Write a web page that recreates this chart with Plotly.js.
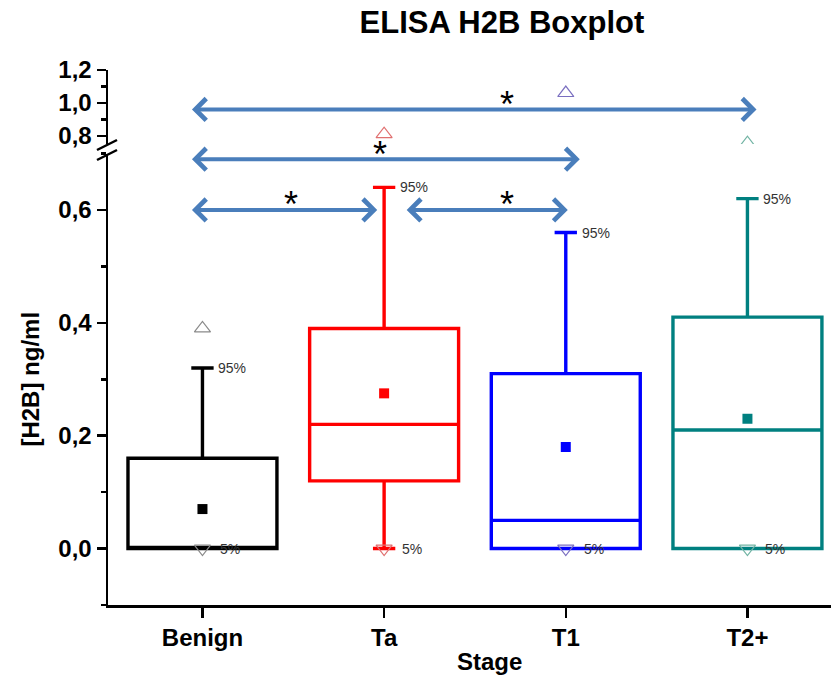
<!DOCTYPE html>
<html>
<head>
<meta charset="utf-8">
<script src="https://cdn.plot.ly/plotly-3.0.1.min.js"></script>
<style>html,body{margin:0;padding:0;background:#fff;}#chart{width:831px;height:681px;}</style>
</head>
<body>
<div id="chart"></div>
<script>
// ---- data ----
const categories = ['Benign', 'Ta', 'T1', 'T2+'];
const q1Values     = [0.00, 0.12, 0.00, 0.00];
const medianValues = [0.00, 0.22, 0.05, 0.21];
const q3Values     = [0.16, 0.39, 0.31, 0.41];
const p5Values     = [0.00, 0.00, 0.00, 0.00];
const p95Values    = [0.32, 0.64, 0.56, 0.62];
const meanValues   = [0.07, 0.275, 0.18, 0.23];
const maxValues    = [0.39, 0.81, 1.06, 0.755];
const minValues    = [0.00, 0.00, 0.00, 0.00];
const tadash       = [0.00];            // small dash marker beside Ta minimum
// significance comparisons: [left end, right end, level, star position]
const comparisons = [
  [-0.066, 0.962, 0.60, 0.49],
  [1.116, 2.011, 0.60, 1.676],
  [-0.066, 2.077, 0.69, 0.978],
  [-0.066, 3.05, 0.96, 1.676]
];

// ---- styling ----
const colors = ['#000000', '#ff0000', '#0000ff', '#008080'];
const lightColors = ['#8a8a8a', '#e07070', '#7a6fc0', '#72b4a4'];
const FONT = 'Liberation Sans, Arial, sans-serif';
const LOWER_MAX = 0.7;     // break point of the axis

const traces = [];
categories.forEach((c, i) => {
  traces.push({
    type: 'box', x: [c], q1: [q1Values[i]], median: [medianValues[i]], q3: [q3Values[i]],
    lowerfence: [p5Values[i]], upperfence: [p95Values[i]],
    width: 0.82, whiskerwidth: 0.15, boxpoints: false,
    line: {color: colors[i], width: 3.4}, fillcolor: 'rgba(0,0,0,0)',
    xaxis: 'x', yaxis: 'y', hoverinfo: 'skip', showlegend: false
  });
});
// means
traces.push({
  type: 'scatter', mode: 'markers', x: categories, y: meanValues, xaxis: 'x', yaxis: 'y',
  marker: {symbol: 'square', size: 10, color: colors}, showlegend: false, hoverinfo: 'skip'
});
// minima
traces.push({
  type: 'scatter', mode: 'markers', x: categories, y: minValues, xaxis: 'x', yaxis: 'y',
  marker: {symbol: 'triangle-down-open', size: 14, color: lightColors, line: {width: 1.2}},
  showlegend: false, hoverinfo: 'skip'
});
// Ta small dash
traces.push({
  type: 'scatter', mode: 'markers', x: [0.885], y: tadash, xaxis: 'x', yaxis: 'y',
  marker: {symbol: 'line-ew-open', size: 7, color: lightColors[1], line: {width: 1.4, color: lightColors[1]}},
  showlegend: false, hoverinfo: 'skip'
});
// maxima (split between the two axis segments)
const loX = [], loY = [], loC = [], hiX = [], hiY = [], hiC = [];
maxValues.forEach((v, i) => {
  if (v <= LOWER_MAX) { loX.push(categories[i]); loY.push(v); loC.push(lightColors[i]); }
  else { hiX.push(categories[i]); hiY.push(v); hiC.push(lightColors[i]); }
});
traces.push({
  type: 'scatter', mode: 'markers', x: loX, y: loY, xaxis: 'x', yaxis: 'y',
  marker: {symbol: 'triangle-up-open', size: 14, color: loC, line: {width: 1.2}},
  showlegend: false, hoverinfo: 'skip'
});
traces.push({
  type: 'scatter', mode: 'markers', x: hiX, y: hiY, xaxis: 'x', yaxis: 'y2',
  marker: {symbol: 'triangle-up-open', size: 14, color: hiC, line: {width: 1.2}},
  showlegend: false, hoverinfo: 'skip'
});

// annotations
const annotations = [];
categories.forEach((c, i) => {
  annotations.push({x: i, y: p95Values[i], xref: 'x', yref: 'y', text: '95%', showarrow: false,
    xanchor: 'left', yanchor: 'middle', xshift: 14, font: {family: FONT, size: 14, color: '#333'}});
  annotations.push({x: i, y: p5Values[i], xref: 'x', yref: 'y', text: '5%', showarrow: false,
    xanchor: 'left', yanchor: 'middle', xshift: 16, font: {family: FONT, size: 14, color: '#333'}});
});
comparisons.forEach(cmp => {
  const yr = cmp[2] > LOWER_MAX ? 'y2' : 'y';
  annotations.push({x: cmp[1], y: cmp[2], ax: cmp[0], ay: cmp[2], xref: 'x', yref: yr,
    axref: 'x', ayref: yr, text: '', showarrow: true, arrowside: 'end+start',
    arrowhead: 4, startarrowhead: 4, arrowsize: 1.05, startarrowsize: 1.05, arrowwidth: 4,
    arrowcolor: '#4a7ebb', standoff: 0, startstandoff: 0});
  annotations.push({x: cmp[3], y: cmp[2], xref: 'x', yref: yr, text: '*', showarrow: false,
    xanchor: 'center', yanchor: 'middle', yshift: 5, font: {family: FONT, size: 36, color: '#000'}});
});
annotations.push({x: 0.527, y: -0.1065, xref: 'paper', yref: 'paper', text: 'Stage', showarrow: false,
  xanchor: 'center', yanchor: 'middle', font: {family: FONT, size: 24, weight: 'bold', color: '#000'}});

// axis break marks (paper coords)
const L = 108, R = 831, T = 70, B = 605;
const px = v => (v - L) / (R - L), py = v => (B - v) / (B - T);
const shapes = [
  {type: 'line', xref: 'paper', yref: 'paper', x0: px(97), y0: py(150), x1: px(117), y1: py(140), line: {color: '#000', width: 2.5}},
  {type: 'line', xref: 'paper', yref: 'paper', x0: px(97), y0: py(160), x1: px(117), y1: py(150), line: {color: '#000', width: 2.5}}
];

const tickFont = {family: FONT, size: 24, weight: 'bold', color: '#000'};
const layout = {
  width: 831, height: 681,
  margin: {l: L, r: 0, t: T, b: 681 - B, pad: 0},
  paper_bgcolor: '#fff', plot_bgcolor: '#fff',
  separators: ',.',
  showlegend: false,
  title: {text: 'ELISA H2B Boxplot', xref: 'container', yref: 'container', x: 0.604, y: 0.968,
    xanchor: 'center', yanchor: 'middle', font: {family: FONT, size: 31, weight: 'bold', color: '#000'}},
  xaxis: {type: 'category', range: [-0.52, 3.46], showline: true, linewidth: 2.5, linecolor: '#000',
    ticks: 'outside', ticklen: 10, tickwidth: 2.5, tickcolor: '#000', tickfont: {family: FONT, size: 24, weight: 'bold', color: '#000'},
    showgrid: false, zeroline: false, anchor: 'y', fixedrange: true},
  yaxis: {domain: [0, py(153.5)], range: [-0.1, LOWER_MAX], dtick: 0.2, tick0: 0, tickformat: '.1f',
    showline: true, linewidth: 2.5, linecolor: '#000', ticks: 'outside', ticklen: 9, tickwidth: 2.5, tickcolor: '#000',
    minor: {dtick: 0.1, ticks: 'outside', ticklen: 5, tickwidth: 2.5, tickcolor: '#000'},
    tickfont: tickFont, showgrid: false, zeroline: false, anchor: 'x',
    title: {text: '[H2B] ng/ml', standoff: 12, font: {family: FONT, size: 24, weight: 'bold', color: '#000'}}},
  yaxis2: {domain: [py(144), 1], range: [0.75, 1.2], tickvals: [0.8, 1.0, 1.2], tickformat: '.1f',
    showline: true, linewidth: 2.5, linecolor: '#000', ticks: 'outside', ticklen: 9, tickwidth: 2.5, tickcolor: '#000',
    minor: {tickvals: [0.9, 1.1], ticks: 'outside', ticklen: 5, tickwidth: 2.5, tickcolor: '#000'},
    tickfont: tickFont, showgrid: false, zeroline: false, anchor: 'x'},
  annotations: annotations,
  shapes: shapes
};

Plotly.newPlot('chart', traces, layout, {displayModeBar: false, staticPlot: true});
</script>
</body>
</html>
